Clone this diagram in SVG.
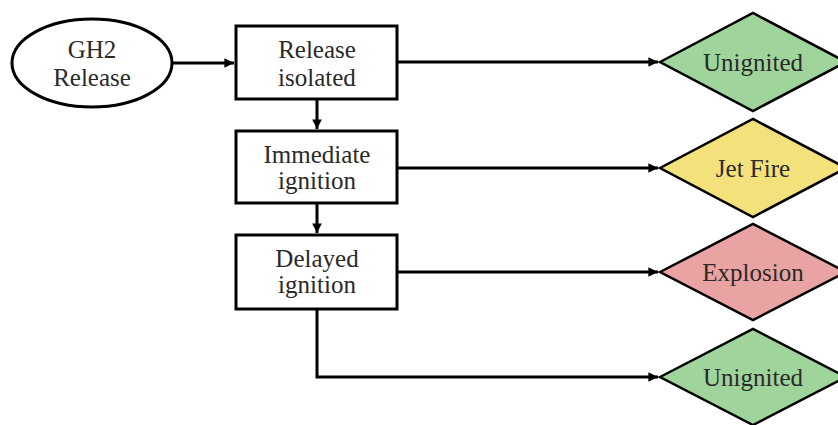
<svg xmlns="http://www.w3.org/2000/svg" width="838" height="425" viewBox="0 0 838 425">
<style>
.n{fill:#fff;stroke:#000;stroke-width:3}
.d{stroke:#000;stroke-width:2.5}
.t{font-family:"Liberation Serif","Times New Roman",serif;font-size:25px;fill:#2a2a2a;text-anchor:middle}
.c{fill:none;stroke:#000;stroke-width:3}
</style>
<defs>
<marker id="ah" viewBox="0 0 10 10" refX="10" refY="5" markerWidth="4" markerHeight="3.2" orient="auto" markerUnits="strokeWidth">
<path d="M0,0 L10,5 L0,10 z" fill="#000"/>
</marker>
</defs>
<rect width="838" height="425" fill="#fff"/>
<g id="connectors">
<path class="c" d="M173,63 H234" marker-end="url(#ah)"/>
<path class="c" d="M397,62 H658" marker-end="url(#ah)"/>
<path class="c" d="M317,99 V129" marker-end="url(#ah)"/>
<path class="c" d="M397,168 H658" marker-end="url(#ah)"/>
<path class="c" d="M317,203 V233" marker-end="url(#ah)"/>
<path class="c" d="M397,272 H658" marker-end="url(#ah)"/>
<path class="c" d="M317,309 V377 H658" marker-end="url(#ah)"/>
</g>
<g id="gh2-release">
<ellipse class="n" cx="92" cy="63" rx="80" ry="44"/>
<text class="t" x="92" y="58">GH2</text>
<text class="t" x="92" y="86">Release</text>
</g>
<g id="release-isolated">
<rect class="n" x="236" y="26" width="161" height="73"/>
<text class="t" x="317" y="58">Release</text>
<text class="t" x="317" y="86">isolated</text>
</g>
<g id="immediate-ignition">
<rect class="n" x="236" y="131" width="161" height="72"/>
<text class="t" x="317" y="163">Immediate</text>
<text class="t" x="317" y="189">ignition</text>
</g>
<g id="delayed-ignition">
<rect class="n" x="236" y="235" width="161" height="74"/>
<text class="t" x="317" y="267">Delayed</text>
<text class="t" x="317" y="293">ignition</text>
</g>
<g id="unignited-1">
<polygon class="d" fill="#9fd49b" points="660,62 753,13 846,62 753,111"/>
<text class="t" x="753" y="71">Unignited</text>
</g>
<g id="jet-fire">
<polygon class="d" fill="#f3e27b" points="660,168 753,119 846,168 753,217"/>
<text class="t" x="753" y="177">Jet Fire</text>
</g>
<g id="explosion">
<polygon class="d" fill="#e9a3a3" points="660,272 753,224 846,272 753,320"/>
<text class="t" x="753" y="281">Explosion</text>
</g>
<g id="unignited-2">
<polygon class="d" fill="#9fd49b" points="660,377 753,329 846,377 753,425"/>
<text class="t" x="753" y="386">Unignited</text>
</g>
</svg>
